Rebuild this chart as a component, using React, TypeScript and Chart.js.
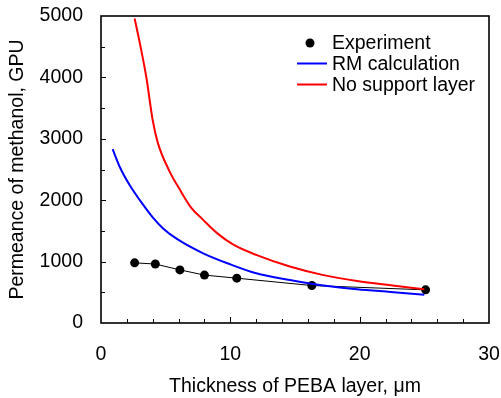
import React, { useEffect, useRef } from "react";
import { Chart, registerables } from "chart.js";

Chart.register(...registerables);

const FONT = "'Liberation Sans', Arial, Helvetica, sans-serif";

// Experiment
const expThickness = [2.6, 4.2, 6.1, 8.0, 10.5, 16.3, 25.1];
const expPermeance = [980, 960, 865, 780, 730, 610, 540];

// RM calculation
const rmThickness = [0.9, 1.5, 2.2, 3.0, 4.0, 4.8, 5.9, 7.9, 10.0, 12.0, 14.6, 17.2, 19.8, 22.4, 25.0];
const rmPermeance = [2830, 2520, 2250, 2000, 1720, 1540, 1365, 1135, 955, 810, 700, 610, 550, 505, 460];

// No support layer
const noThickness = [2.6, 3.0, 3.5, 4.0, 4.4, 5.3, 6.1, 7.0, 7.9, 9.0, 10.2, 12.0, 14.6, 17.2, 19.8, 22.4, 25.0];
const noPermeance = [4960, 4560, 4010, 3300, 2930, 2470, 2170, 1870, 1680, 1460, 1280, 1110, 920, 780, 685, 615, 550];

const xTicks = [0, 10, 20, 30];
const yTicks = [0, 1000, 2000, 3000, 4000, 5000];

const legendLabels = ["Experiment", "RM calculation", "No support layer"];

const toPts = (xs: number[], ys: number[]) => xs.map((x, i) => ({ x, y: ys[i] }));

export default function App() {
  const ref = useRef<HTMLCanvasElement>(null);

  useEffect(() => {
    document.body.style.margin = "0";
    const canvas = ref.current;
    if (!canvas) return;

    const framePlugin = {
      id: "frameAndLegend",
      afterDraw(chart: any) {
        const { ctx, chartArea: a, scales } = chart;
        ctx.save();
        ctx.strokeStyle = "#000";
        ctx.lineWidth = 1.6;
        ctx.strokeRect(a.left, a.top, a.right - a.left, a.bottom - a.top);
        ctx.lineWidth = 1;
        for (let v = 2; v < 30; v += 2) {
          const x = Math.round(scales.x.getPixelForValue(v)) + 0.5;
          const len = v % 10 === 0 ? 6 : 4;
          ctx.beginPath();
          ctx.moveTo(x, a.bottom);
          ctx.lineTo(x, a.bottom - len);
          ctx.stroke();
        }
        for (let v = 500; v < 5000; v += 500) {
          const y = Math.round(scales.y.getPixelForValue(v)) + 0.5;
          const len = v % 1000 === 0 ? 5 : 4;
          ctx.beginPath();
          ctx.moveTo(a.left, y);
          ctx.lineTo(a.left + len, y);
          ctx.stroke();
        }
        // legend
        const lx = a.left + 196;
        const tx = a.left + 231;
        const ys = [a.top + 27, a.top + 47.5, a.top + 68.5];
        ctx.fillStyle = "#000";
        ctx.beginPath();
        ctx.arc(lx + 13, ys[0], 4.5, 0, Math.PI * 2);
        ctx.fill();
        const colors = ["#0000ff", "#ff0000"];
        ctx.lineWidth = 2;
        for (let i = 0; i < 2; i++) {
          ctx.strokeStyle = colors[i];
          ctx.beginPath();
          ctx.moveTo(lx, ys[i + 1]);
          ctx.lineTo(lx + 30, ys[i + 1]);
          ctx.stroke();
        }
        ctx.font = `19.5px ${FONT}`;
        ctx.textBaseline = "middle";
        ctx.textAlign = "left";
        ctx.fillStyle = "#000";
        legendLabels.forEach((t, i) => ctx.fillText(t, tx, ys[i] + 1));
        ctx.restore();
      },
    };

    const hiddenGrid = (len: number) => ({
      display: true,
      drawOnChartArea: false,
      drawTicks: true,
      tickLength: len,
      color: "rgba(0,0,0,0)",
      tickColor: "rgba(0,0,0,0)",
    });

    const chart = new Chart(canvas, {
      type: "scatter",
      data: {
        datasets: [
          {
            label: legendLabels[2],
            data: toPts(noThickness, noPermeance),
            showLine: true,
            borderColor: "#ff0000",
            borderWidth: 2,
            pointRadius: 0,
            cubicInterpolationMode: "monotone",
          },
          {
            label: legendLabels[1],
            data: toPts(rmThickness, rmPermeance),
            showLine: true,
            borderColor: "#0000ff",
            borderWidth: 2,
            pointRadius: 0,
            cubicInterpolationMode: "monotone",
          },
          {
            label: legendLabels[0],
            data: toPts(expThickness, expPermeance),
            showLine: true,
            borderColor: "#000",
            borderWidth: 1,
            pointRadius: 4.5,
            pointBackgroundColor: "#000",
            pointBorderColor: "#000",
            pointBorderWidth: 0,
          },
        ],
      },
      options: {
        responsive: false,
        animation: false,
        devicePixelRatio: 1,
        layout: { padding: { top: 16, right: 12, left: 0, bottom: 0 } },
        plugins: { legend: { display: false }, tooltip: { enabled: false } },
        scales: {
          x: {
            type: "linear",
            min: 0,
            max: 30,
            afterFit: (s: any) => {
              s.height = 75;
            },
            afterBuildTicks: (s: any) => {
              s.ticks = xTicks.map((v) => ({ value: v }));
            },
            grid: hiddenGrid(20),
            border: { display: false },
            ticks: {
              color: "#000",
              padding: 0,
              font: { family: FONT, size: 19.5 },
              maxRotation: 0,
              callback: (v: any) => String(v),
            },
            title: {
              display: true,
              text: "Thickness of PEBA layer, \u03bcm",
              color: "#000",
              font: { family: FONT, size: 19.5 },
              padding: { top: 0, bottom: 0 },
            },
          },
          y: {
            type: "linear",
            min: 0,
            max: 5000,
            afterFit: (s: any) => {
              s.width = 101;
            },
            afterBuildTicks: (s: any) => {
              s.ticks = yTicks.map((v) => ({ value: v }));
            },
            grid: hiddenGrid(18),
            border: { display: false },
            ticks: {
              color: "#000",
              padding: 0,
              font: { family: FONT, size: 19.5 },
              callback: (v: any) => String(v),
            },
            title: {
              display: true,
              text: "Permeance of methanol, GPU",
              color: "#000",
              font: { family: FONT, size: 19.5 },
              padding: { top: 6, bottom: 0 },
            },
          },
        },
      },
      plugins: [framePlugin],
    } as any);

    return () => chart.destroy();
  }, []);

  return (
    <div style={{ position: "absolute", left: 0, top: 0, width: 501, height: 398 }}>
      <canvas ref={ref} width={501} height={398} style={{ display: "block" }} />
    </div>
  );
}
